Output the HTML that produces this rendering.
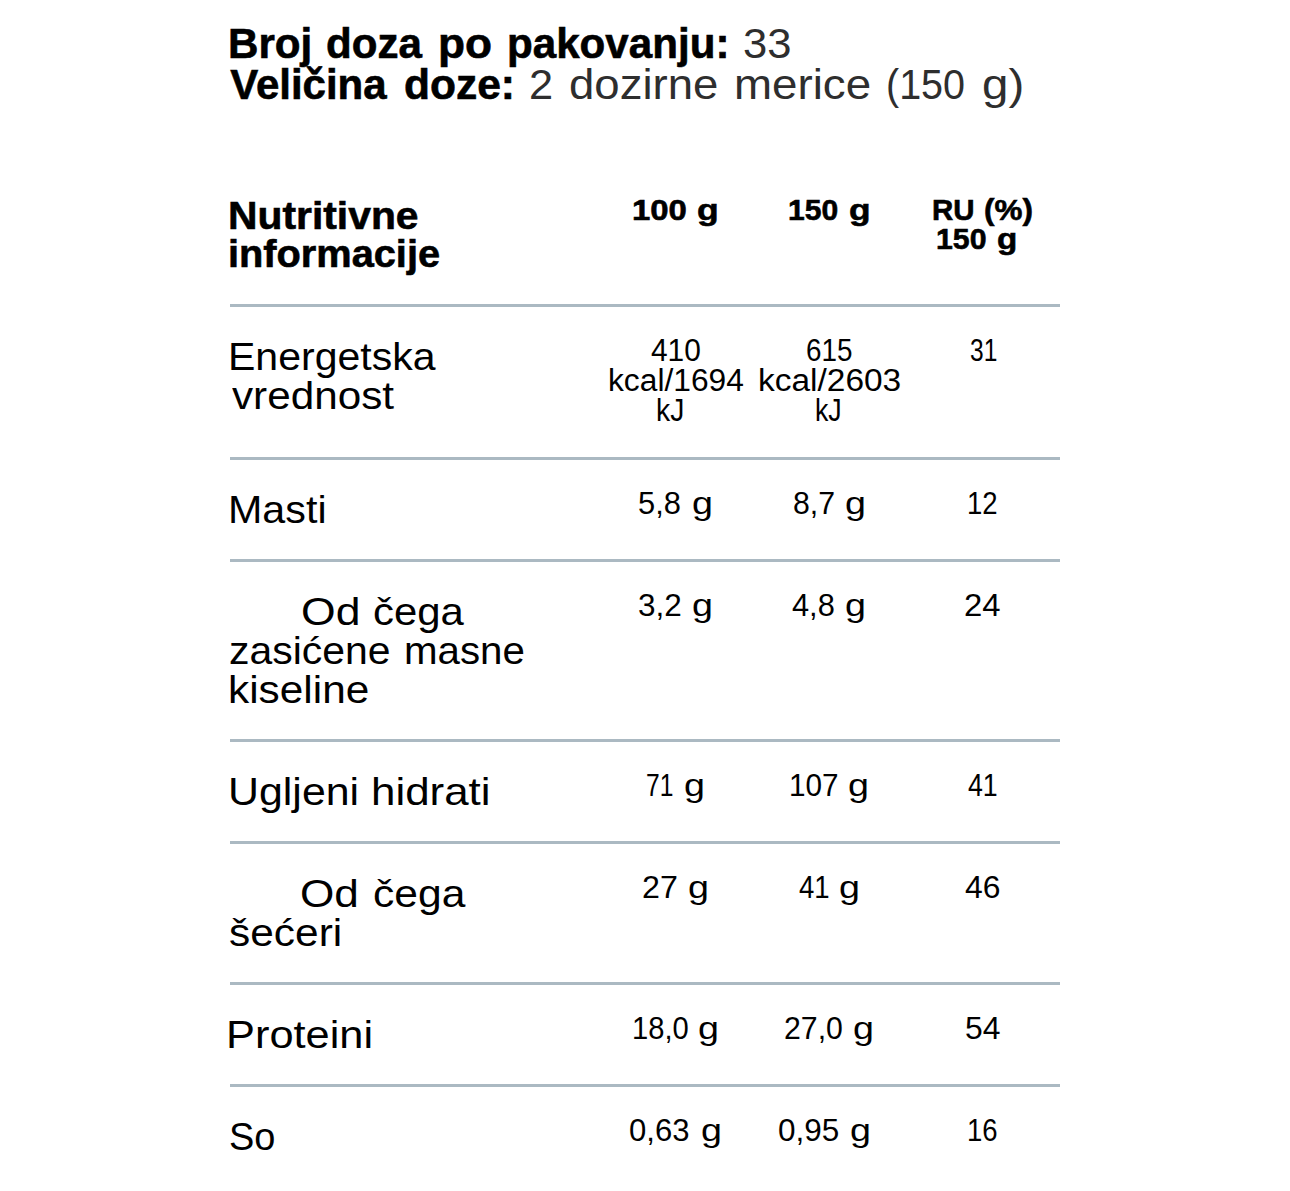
<!DOCTYPE html><html><head><meta charset="utf-8"><style>
html,body{margin:0;padding:0;background:#fff;width:1290px;height:1191px;overflow:hidden}
body{position:relative;font-family:"Liberation Sans",sans-serif;color:#000}
.t{position:absolute;white-space:pre;line-height:1;transform-origin:0 0}
.l{position:absolute;left:230px;width:830px;height:3px;background:#abb9c2}
</style></head><body>
<div class="l" style="top:304px"></div>
<div class="l" style="top:457px"></div>
<div class="l" style="top:559px"></div>
<div class="l" style="top:739px"></div>
<div class="l" style="top:841px"></div>
<div class="l" style="top:982px"></div>
<div class="l" style="top:1084px"></div>
<div class="t" style="left:228.38px;top:22.85px;font-size:42px;font-weight:700;-webkit-text-stroke:0.6px #000;transform:scaleX(1.0039);">Broj</div>
<div class="t" style="left:326.20px;top:22.85px;font-size:42px;font-weight:700;-webkit-text-stroke:0.6px #000;transform:scaleX(1.0021);">doza</div>
<div class="t" style="left:437.86px;top:22.85px;font-size:42px;font-weight:700;-webkit-text-stroke:0.6px #000;transform:scaleX(1.0524);">po</div>
<div class="t" style="left:507.39px;top:22.85px;font-size:42px;font-weight:700;-webkit-text-stroke:0.6px #000;transform:scaleX(1.0032);">pakovanju:</div>
<div class="t" style="left:743.13px;top:22.85px;font-size:42px;transform:scaleX(1.0373);color:#2e2e2e;">33</div>
<div class="t" style="left:230.20px;top:64.25px;font-size:42px;font-weight:700;-webkit-text-stroke:0.6px #000;">Veličina</div>
<div class="t" style="left:403.77px;top:64.25px;font-size:42px;font-weight:700;-webkit-text-stroke:0.6px #000;transform:scaleX(1.0126);">doze:</div>
<div class="t" style="left:528.93px;top:64.25px;font-size:42px;transform:scaleX(1.0329);color:#2e2e2e;">2</div>
<div class="t" style="left:568.83px;top:64.25px;font-size:42px;transform:scaleX(1.0843);color:#2e2e2e;">dozirne</div>
<div class="t" style="left:733.78px;top:64.25px;font-size:42px;transform:scaleX(1.0878);color:#2e2e2e;">merice</div>
<div class="t" style="left:886.36px;top:64.25px;font-size:42px;transform:scaleX(0.9401);color:#2e2e2e;">(150</div>
<div class="t" style="left:981.80px;top:64.25px;font-size:42px;transform:scaleX(1.1303);color:#2e2e2e;">g)</div>
<div class="t" style="left:227.72px;top:195.99px;font-size:39px;font-weight:700;-webkit-text-stroke:0.6px #000;transform:scaleX(1.0469);">Nutritivne</div>
<div class="t" style="left:227.74px;top:234.19px;font-size:39px;font-weight:700;-webkit-text-stroke:0.6px #000;transform:scaleX(1.0192);">informacije</div>
<div class="t" style="left:632.04px;top:194.80px;font-size:30px;font-weight:700;-webkit-text-stroke:0.6px #000;transform:scaleX(1.0959);">100</div>
<div class="t" style="left:696.82px;top:194.80px;font-size:30px;font-weight:700;-webkit-text-stroke:0.6px #000;transform:scaleX(1.1822);">g</div>
<div class="t" style="left:788.00px;top:194.80px;font-size:30px;font-weight:700;-webkit-text-stroke:0.6px #000;transform:scaleX(1.0022);">150</div>
<div class="t" style="left:849.00px;top:194.80px;font-size:30px;font-weight:700;-webkit-text-stroke:0.6px #000;transform:scaleX(1.1760);">g</div>
<div class="t" style="left:932.43px;top:195.00px;font-size:30px;font-weight:700;-webkit-text-stroke:0.6px #000;transform:scaleX(0.9825);">RU</div>
<div class="t" style="left:984.36px;top:195.00px;font-size:30px;font-weight:700;-webkit-text-stroke:0.6px #000;transform:scaleX(1.0468);">(%)</div>
<div class="t" style="left:935.58px;top:224.30px;font-size:30px;font-weight:700;-webkit-text-stroke:0.6px #000;transform:scaleX(1.0086);">150</div>
<div class="t" style="left:997.30px;top:224.30px;font-size:30px;font-weight:700;-webkit-text-stroke:0.6px #000;transform:scaleX(1.1064);">g</div>
<div class="t" style="left:227.84px;top:336.69px;font-size:39px;transform:scaleX(1.0521);">Energetska</div>
<div class="t" style="left:232.00px;top:375.69px;font-size:39px;transform:scaleX(1.0832);">vrednost</div>
<div class="t" style="left:651.19px;top:334.56px;font-size:31px;transform:scaleX(0.9642);">410</div>
<div class="t" style="left:607.55px;top:364.56px;font-size:31px;transform:scaleX(1.0239);">kcal/1694</div>
<div class="t" style="left:656.34px;top:394.56px;font-size:31px;transform:scaleX(0.9113);">kJ</div>
<div class="t" style="left:806.20px;top:334.56px;font-size:31px;transform:scaleX(0.8980);">615</div>
<div class="t" style="left:758.02px;top:364.56px;font-size:31px;transform:scaleX(1.0791);">kcal/2603</div>
<div class="t" style="left:815.34px;top:394.56px;font-size:31px;transform:scaleX(0.8617);">kJ</div>
<div class="t" style="left:969.59px;top:334.56px;font-size:31px;transform:scaleX(0.7907);">31</div>
<div class="t" style="left:227.79px;top:489.69px;font-size:39px;transform:scaleX(1.0576);">Masti</div>
<div class="t" style="left:638.40px;top:487.56px;font-size:31px;transform:scaleX(0.9953);">5,8</div>
<div class="t" style="left:691.52px;top:487.56px;font-size:31px;transform:scaleX(1.2143);">g</div>
<div class="t" style="left:793.23px;top:487.56px;font-size:31px;transform:scaleX(0.9756);">8,7</div>
<div class="t" style="left:844.84px;top:487.56px;font-size:31px;transform:scaleX(1.2143);">g</div>
<div class="t" style="left:967.11px;top:487.56px;font-size:31px;transform:scaleX(0.8873);">12</div>
<div class="t" style="left:301.13px;top:591.69px;font-size:39px;transform:scaleX(1.1418);">Od</div>
<div class="t" style="left:372.85px;top:591.69px;font-size:39px;transform:scaleX(1.0747);">čega</div>
<div class="t" style="left:228.71px;top:630.69px;font-size:39px;transform:scaleX(1.0497);">zasićene</div>
<div class="t" style="left:404.11px;top:630.69px;font-size:39px;transform:scaleX(1.0328);">masne</div>
<div class="t" style="left:227.74px;top:669.69px;font-size:39px;transform:scaleX(1.0864);">kiseline</div>
<div class="t" style="left:638.37px;top:589.56px;font-size:31px;transform:scaleX(1.0153);">3,2</div>
<div class="t" style="left:691.84px;top:589.56px;font-size:31px;transform:scaleX(1.2143);">g</div>
<div class="t" style="left:791.61px;top:589.56px;font-size:31px;transform:scaleX(0.9927);">4,8</div>
<div class="t" style="left:844.84px;top:589.56px;font-size:31px;transform:scaleX(1.2143);">g</div>
<div class="t" style="left:964.29px;top:589.56px;font-size:31px;transform:scaleX(1.0596);">24</div>
<div class="t" style="left:228.30px;top:771.69px;font-size:39px;transform:scaleX(1.1000);">Ugljeni</div>
<div class="t" style="left:371.04px;top:771.69px;font-size:39px;transform:scaleX(1.1257);">hidrati</div>
<div class="t" style="left:646.44px;top:769.56px;font-size:31px;transform:scaleX(0.7944);">71</div>
<div class="t" style="left:684.21px;top:769.56px;font-size:31px;transform:scaleX(1.2143);">g</div>
<div class="t" style="left:789.29px;top:769.56px;font-size:31px;transform:scaleX(0.9583);">107</div>
<div class="t" style="left:847.84px;top:769.56px;font-size:31px;transform:scaleX(1.2143);">g</div>
<div class="t" style="left:967.90px;top:769.56px;font-size:31px;transform:scaleX(0.8626);">41</div>
<div class="t" style="left:300.48px;top:873.69px;font-size:39px;transform:scaleX(1.1323);">Od</div>
<div class="t" style="left:372.64px;top:873.69px;font-size:39px;transform:scaleX(1.0916);">čega</div>
<div class="t" style="left:229.32px;top:912.69px;font-size:39px;transform:scaleX(1.0881);">šećeri</div>
<div class="t" style="left:641.72px;top:871.56px;font-size:31px;transform:scaleX(1.0390);">27</div>
<div class="t" style="left:688.21px;top:871.56px;font-size:31px;transform:scaleX(1.2143);">g</div>
<div class="t" style="left:798.72px;top:871.56px;font-size:31px;transform:scaleX(0.8881);">41</div>
<div class="t" style="left:839.41px;top:871.56px;font-size:31px;transform:scaleX(1.2143);">g</div>
<div class="t" style="left:965.37px;top:871.56px;font-size:31px;transform:scaleX(1.0285);">46</div>
<div class="t" style="left:226.19px;top:1014.69px;font-size:39px;transform:scaleX(1.1127);">Proteini</div>
<div class="t" style="left:631.55px;top:1012.56px;font-size:31px;transform:scaleX(0.9404);">18,0</div>
<div class="t" style="left:697.84px;top:1012.56px;font-size:31px;transform:scaleX(1.2143);">g</div>
<div class="t" style="left:783.83px;top:1012.56px;font-size:31px;transform:scaleX(0.9759);">27,0</div>
<div class="t" style="left:853.26px;top:1012.56px;font-size:31px;transform:scaleX(1.2143);">g</div>
<div class="t" style="left:965.38px;top:1012.56px;font-size:31px;transform:scaleX(1.0275);">54</div>
<div class="t" style="left:228.63px;top:1116.69px;font-size:39px;transform:scaleX(0.9739);">So</div>
<div class="t" style="left:629.39px;top:1114.56px;font-size:31px;transform:scaleX(1.0018);">0,63</div>
<div class="t" style="left:700.94px;top:1114.56px;font-size:31px;transform:scaleX(1.2143);">g</div>
<div class="t" style="left:777.78px;top:1114.56px;font-size:31px;transform:scaleX(1.0156);">0,95</div>
<div class="t" style="left:849.68px;top:1114.56px;font-size:31px;transform:scaleX(1.2143);">g</div>
<div class="t" style="left:967.11px;top:1114.56px;font-size:31px;transform:scaleX(0.8873);">16</div>
</body></html>
